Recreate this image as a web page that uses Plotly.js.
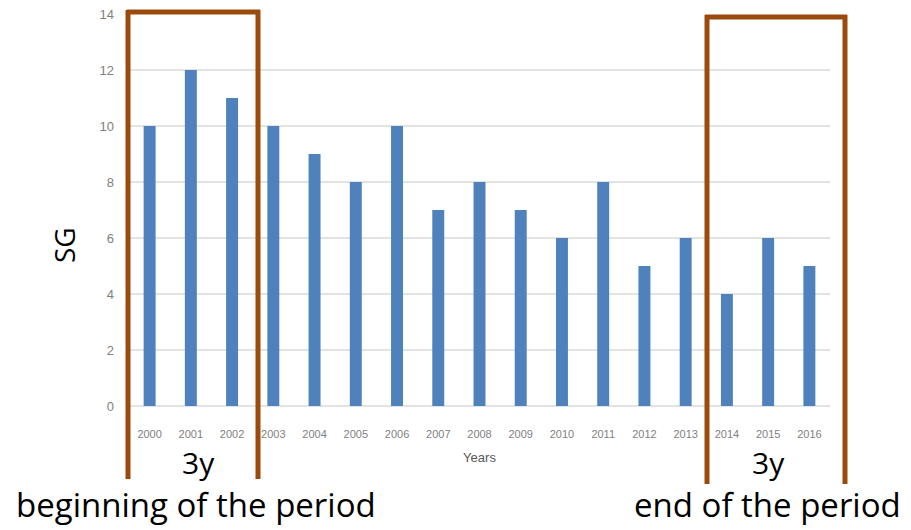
<!DOCTYPE html>
<html><head><meta charset="utf-8">
<script src="https://cdn.plot.ly/plotly-3.0.1.min.js"></script>
<style>html,body{margin:0;padding:0;background:#fff}</style>
</head><body><div id="chart" style="width:911px;height:530px"></div>
<script>
const years = ["2000","2001","2002","2003","2004","2005","2006","2007","2008","2009","2010","2011","2012","2013","2014","2015","2016"];
const sgValues = [10,12,11,10,9,8,10,7,8,7,6,8,5,6,4,6,5];
const yTicks = [0,2,4,6,8,10,12,14];
const periodLabels = ["beginning of the period","end of the period"];
const periodLength = "3y";
const yTitle = "SG";

const W = 911, H = 530;
const L = 129, R = 830, T = 14, B = 406;
const px = x => (x - L) / (R - L);
const py = y => (B - y) / (B - T);
const brown = "#9C4A0C";
const lineW = 5;
function seg(x0,y0,x1,y1){return {type:"line",xref:"paper",yref:"paper",x0:px(x0),y0:py(y0),x1:px(x1),y1:py(y1),line:{color:brown,width:lineW},layer:"above"};}
const big = {color:"#000", family:"Open Sans, sans-serif"};

const data = [{type:"bar", x:years, y:sgValues, marker:{color:"#4F81BD"}, hoverinfo:"x+y"}];
const layout = {
  width:W, height:H,
  margin:{l:L, r:W-R, t:T, b:H-B, pad:0},
  paper_bgcolor:"#fff", plot_bgcolor:"#fff",
  bargap:0.71,
  showlegend:false,
  font:{family:"Liberation Sans Narrow, Liberation Sans, Arial, sans-serif", color:"#7f7f7f"},
  xaxis:{type:"category", showgrid:false, zeroline:false, showline:false, ticks:"",
    tickfont:{size:11, color:"#7f7f7f", family:"Liberation Sans Narrow, Liberation Sans, sans-serif"},
    ticklabelstandoff:20,
    title:{text:"Years", font:{size:13, color:"#595959", family:"Liberation Sans Narrow, Liberation Sans, sans-serif"}, standoff:13}},
  yaxis:{range:[0,14], tickvals:yTicks, showgrid:true, gridcolor:"#e3e3e3", gridwidth:1.5,
    zeroline:true, zerolinecolor:"#e3e3e3", zerolinewidth:1.5, showline:false, ticks:"",
    tickfont:{size:13, color:"#7f7f7f", family:"Liberation Sans Narrow, Liberation Sans, sans-serif"},
    ticklabelstandoff:14},
  shapes:[
    seg(127,12,260,12), seg(128,10,128,479), seg(258,10,258,479),
    seg(705,17,847,17), seg(707,15,707,484), seg(845,15,845,484)
  ],
  annotations:[
    {xref:"paper",yref:"paper",x:px(64),y:py(245),text:yTitle,textangle:-90,showarrow:false,font:Object.assign({size:28},big),xanchor:"center",yanchor:"middle"},
    {xref:"paper",yref:"paper",x:px(198),y:py(462),text:periodLength,showarrow:false,font:Object.assign({size:30},big),xanchor:"center",yanchor:"middle"},
    {xref:"paper",yref:"paper",x:px(196),y:py(505),text:periodLabels[0],showarrow:false,font:Object.assign({size:33},big),xanchor:"center",yanchor:"middle"},
    {xref:"paper",yref:"paper",x:px(768),y:py(462),text:periodLength,showarrow:false,font:Object.assign({size:30},big),xanchor:"center",yanchor:"middle"},
    {xref:"paper",yref:"paper",x:px(767),y:py(505),text:periodLabels[1],showarrow:false,font:Object.assign({size:33},big),xanchor:"center",yanchor:"middle"}
  ]
};
Plotly.newPlot("chart", data, layout, {displayModeBar:false, staticPlot:true});
</script></body></html>
